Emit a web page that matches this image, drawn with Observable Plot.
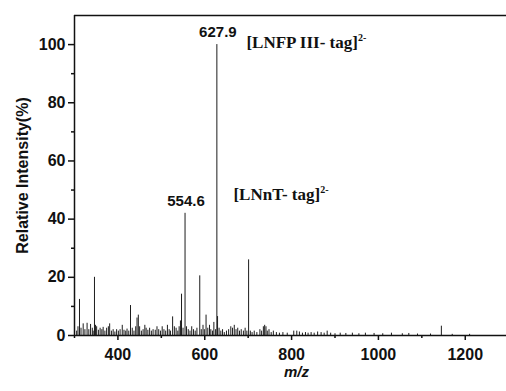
<!DOCTYPE html>
<html><head><meta charset="utf-8">
<script src="https://cdn.jsdelivr.net/npm/d3@7"></script>
<script src="https://cdn.jsdelivr.net/npm/@observablehq/plot@0.6"></script>
<style>body{margin:0;background:#fff}</style>
</head><body><div id="chart"></div>
<script>
// Peaks (m/z, relative intensity %)
const mz = [
  305,308,311.5,315,320,324,329,333,337,341,343,346,348.5,351,355,359,363,366,370,374,378,381,385,389,393,397,
  401,405,410,414,418,421,425,429,433,437,441,444,447,450,454,458,462,465,469,473,477,481,486,490,494,498,
  502,506,510,514,518,521,526,530,534,538,541,544,546.5,550,554.6,558,562,566,570,574,578,582,588.5,592,596,599,
  603,607,611,614,618,621,625,627.9,629.5,633,637,641,645,650,655,660,664,668,672,676,680,684,689,693,697,
  701,705,709,714,720,727,731,735,738,741,744,748,753,758,765,772,780,790,805,812,818,825,832,838,845,852,860,
  868,875,882,890,900,912,925,940,955,970,990,1010,1030,1055,1070,1090,1120,1145,1170,1210
];
const intensity = [
  1.5,3,12.4,2.5,4,2,4.2,2,3.8,2.5,1.5,20,3.5,3,1.8,2.5,2,2.8,1.5,2.5,3,4,1.5,2,1.2,2,
  1.5,2,3.5,1.8,1.5,2.2,1.5,10.3,2.5,1.5,3,6,7,3,1.5,2,3.5,2.5,1.8,2.5,1.5,2,1.8,3,2,1.5,
  3,2,1.5,3.5,2,1.5,6.4,3,2.5,1.5,3,5,14.2,2.5,42,3,2,1.5,3,2,1.5,2.5,20.5,2,3.5,2,
  7,2.5,3.5,2,1.5,4.5,2,100,6.5,2.5,1.5,2,1,1.5,2,3,2.5,3.5,2,2.5,1.5,2,1.5,2.5,1.5,
  26,1.5,1,1.5,1,2,1.5,3,3.5,3,1.5,2,1,1.5,1,0.8,1,0.8,1.5,1.5,1.2,0.8,1,0.8,1,0.8,1.2,
  1,0.8,1.5,0.8,0.6,0.8,0.7,0.8,0.6,0.8,0.7,0.6,0.8,0.6,0.7,0.5,0.5,3.2,0.4,0.4
];
const xTicks = [400, 600, 800, 1000, 1200];
const xMinor = [300, 500, 700, 900, 1100];
const yTicks = [0, 20, 40, 60, 80, 100];
const yMinor = [10, 30, 50, 70, 90];
const peakLabels = ["627.9", "554.6"];
const peakMz = [627.9, 554.6];
const peakInt = [100, 42];
const ionLabels = ["[LNFP III- tag]", "[LNnT- tag]"];
const ionMz = [696, 666];
const ionInt = [99, 46.5];
const ionCharge = "2-";

const peaks = mz.map((m, i) => ({mz: m, int: intensity[i]}));
const plabels = peakLabels.map((t, i) => ({t, mz: peakMz[i], int: peakInt[i]}));
const ions = ionLabels.map((t, i) => ({t, mz: ionMz[i], int: ionInt[i]}));

const chart = Plot.plot({
  width: 506,
  height: 391,
  marginLeft: 74,
  marginRight: 0,
  marginTop: 15,
  marginBottom: 56,
  style: {fontFamily: "'Liberation Sans', Arial, sans-serif", fontWeight: "bold", fontSize: "16px", color: "#111", background: "#fff"},
  x: {domain: [300, 1295]},
  y: {domain: [0, 110]},
  marks: [
    Plot.ruleX(peaks, {x: "mz", y1: 0, y2: "int", stroke: "#1c1c1c", strokeWidth: 1}),
    Plot.axisY(yTicks, {tickSize: 6, tickPadding: 3, label: null, strokeWidth: 1.5}),
    Plot.axisY(yMinor, {tickSize: 3, tickFormat: () => "", label: null, strokeWidth: 1.5}),
    Plot.axisX(xTicks, {tickSize: 5, tickPadding: 8, tickFormat: d => String(d), label: null, strokeWidth: 1.5}),
    Plot.axisX(xMinor, {tickSize: 3, tickFormat: () => "", label: null, strokeWidth: 1.5}),
    Plot.ruleY([0], {stroke: "#111", strokeWidth: 1.5}),
    Plot.ruleY([110], {stroke: "#111", strokeWidth: 1.5}),
    Plot.ruleX([300], {stroke: "#111", strokeWidth: 1.5}),
    Plot.text(plabels, {x: "mz", y: "int", text: "t", dy: -12, dx: 1, fontSize: 15, fontWeight: "bold", fill: "#111"}),
    Plot.text(ions, {x: "mz", y: "int", text: "t", textAnchor: "start", lineAnchor: "bottom", fontSize: 17, fontWeight: "bold", fontFamily: "'Liberation Serif', 'Times New Roman', serif", fill: "#111", className: "ion"}),
    Plot.text(["Relative Intensity(%)"], {frameAnchor: "left", text: d => d, rotate: -90, textAnchor: "middle", dx: -52, fontSize: 16, fontWeight: "bold", fill: "#111"}),
    Plot.text(["m/z"], {frameAnchor: "bottom", text: d => d, dy: 41, dx: 6, fontSize: 15, fontWeight: "bold", fontStyle: "italic", fill: "#111"})
  ]
});
d3.select(chart).selectAll("g.ion text").append("tspan")
  .attr("dy", "-7").attr("font-size", "10").text(ionCharge);
document.getElementById("chart").appendChild(chart);
</script>
</body></html>
